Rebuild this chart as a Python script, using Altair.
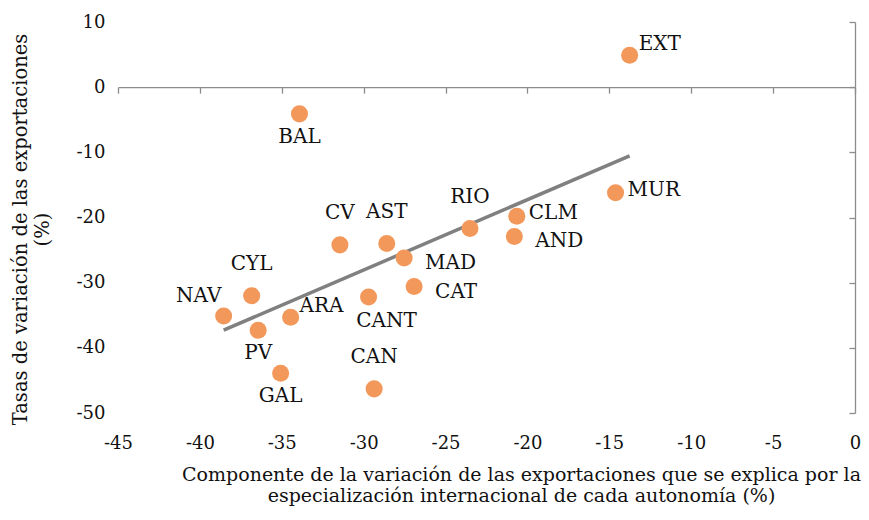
import altair as alt
import pandas as pd

names = ["EXT", "BAL", "MUR", "CLM", "AND", "RIO", "MAD", "CAT", "CV", "AST",
         "CANT", "CAN", "CYL", "NAV", "ARA", "PV", "GAL"]
comp = [-13.76, -33.92, -14.62, -20.65, -20.80, -23.51, -27.53, -26.92, -31.45, -28.59,
        -29.70, -29.36, -36.84, -38.55, -34.46, -36.44, -35.07]
tasa = [4.9, -4.1, -16.2, -19.8, -22.9, -21.7, -26.2, -30.6, -24.2, -24.0,
        -32.2, -46.3, -32.0, -35.1, -35.3, -37.3, -43.9]
placement = ["right_up", "below", "right", "right", "right_down", "above", "right_down",
             "right_down", "above", "above", "below_right", "above", "above", "above_left",
             "right_up", "below", "below"]

x_ticks = [-45, -40, -35, -30, -25, -20, -15, -10, -5, 0]
y_ticks = [-50, -40, -30, -20, -10, 0, 10]
x_title = ["Componente de la variación de las exportaciones que se explica por la",
           "especialización internacional de cada autonomía (%)"]
y_title = ["Tasas de variación de las exportaciones", "(%)"]

df = pd.DataFrame({"name": names, "x": comp, "y": tasa, "pos": placement})

FONT = "DejaVu Serif"
W, H = 737, 391
AX = "#8c8c8c"
ORANGE = "#F3985B"
HYPHEN = "replace(datum.label, '\u2212', '-')"

xs = alt.Scale(domain=[-45, 0], nice=False, zero=False)
ys = alt.Scale(domain=[-50, 10], nice=False, zero=False)

x_main = alt.X("x:Q", scale=xs, axis=alt.Axis(
    orient="bottom", values=x_ticks, domain=False, ticks=False, tickSize=0, grid=False,
    labelPadding=21, labelFont=FONT, labelFontSize=18, labelColor="#111",
    labelFlush=False, labelOverlap=False, labelExpr=HYPHEN,
    title=x_title, titleFont=FONT, titleFontSize=19, titleFontWeight="normal",
    titleColor="#111", titleX=403, titleY=52, titleBaseline="top", titleLineHeight=21,
    titleAnchor="middle", titleAlign="center"))
y_main = alt.Y("y:Q", scale=ys, axis=alt.Axis(
    orient="left", values=y_ticks, domain=False, ticks=False, tickSize=0, grid=False,
    labelPadding=13, labelFont=FONT, labelFontSize=18, labelColor="#111",
    labelFlush=False, labelOverlap=False, labelExpr=HYPHEN,
    title=y_title, titleFont=FONT, titleFontSize=19.5, titleFontWeight="normal",
    titleColor="#111", titleAngle=-90, titleX=-107, titleY=207, titleBaseline="top",
    titleLineHeight=22, titleAlign="center"))

base = alt.Chart(df)

line = base.mark_line(color="#808080", strokeWidth=3.5).transform_regression(
    "x", "y").encode(x=x_main, y=y_main)

pts = base.mark_circle(size=290, color=ORANGE, opacity=1).encode(x=x_main, y=y_main)

styles = {
    "above": ("center", 0, -32),
    "below": ("center", 0, 23),
    "below_right": ("center", 18, 24),
    "right": ("left", 12, -3),
    "right_up": ("left", 9, -11),
    "right_down": ("left", 21, 5),
    "above_left": ("center", -25, -20),
}
texts = []
for key, (al, ddx, ddy) in styles.items():
    texts.append(
        base.transform_filter(alt.datum.pos == key)
        .mark_text(font=FONT, fontSize=20, color="#111", align=al, baseline="middle",
                   dx=ddx, dy=ddy)
        .encode(x=alt.X("x:Q", scale=xs), y=alt.Y("y:Q", scale=ys), text="name:N")
    )

# axis lines: x-axis crossing at y=0, y-axis crossing at x=0
frame = base.mark_point(opacity=0).encode(
    x=alt.X("x:Q", scale=xs, axis=alt.Axis(
        orient="bottom", offset=-(H - H * 10 / 60), values=x_ticks, labels=False, title=None,
        domain=True, ticks=True, tickSize=6, grid=False, domainColor=AX, tickColor=AX,
        domainWidth=1.3, tickWidth=1.3)),
    y=alt.Y("y:Q", scale=ys, axis=alt.Axis(
        orient="left", offset=-W, values=y_ticks, labels=False, title=None,
        domain=True, ticks=True, tickSize=6, grid=False, domainColor=AX, tickColor=AX,
        domainWidth=1.3, tickWidth=1.3)),
)

main = alt.layer(line, pts, *texts)
chart = alt.layer(main, frame).resolve_scale(x="independent", y="independent").properties(
    width=W, height=H,
    autosize=alt.AutoSizeParams(type="none"),
    padding={"left": 110, "top": 14, "right": 6, "bottom": 95},
).configure_view(stroke=None)

chart.save("out.html", embed_options={"renderer": "svg", "actions": False})
